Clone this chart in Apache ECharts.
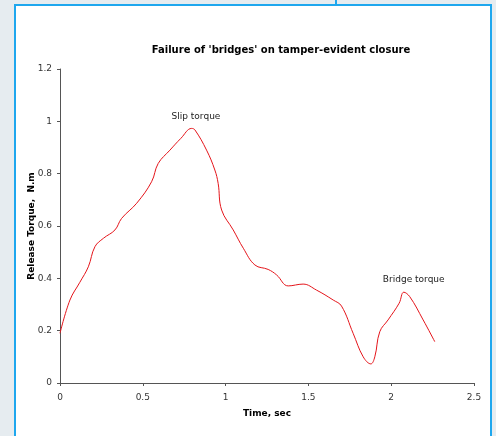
<!DOCTYPE html>
<html><head><meta charset="utf-8">
<script src="https://cdn.jsdelivr.net/npm/echarts@6/dist/echarts.min.js"></script>
<style>
html,body{margin:0;padding:0;width:496px;height:436px;overflow:hidden;background:#e6ecf0;}
#frame{position:absolute;left:14px;top:4px;width:474px;height:440px;background:#fff;border:2px solid #1ea7ee;}
#tick{position:absolute;left:335px;top:0;width:2px;height:5px;background:#1ea7ee;}
#chart{position:absolute;left:0;top:0;width:496px;height:436px;}
</style></head>
<body>
<div id="tick"></div>
<div id="frame"></div>
<div id="chart"></div>
<script>
const timeSec = [0, 0.06, 0.12, 0.171, 0.211, 0.262, 0.332, 0.372, 0.463, 0.553, 0.593, 0.664, 0.73, 0.795, 0.815, 0.885, 0.935, 0.955, 0.976, 1.046, 1.107, 1.177, 1.257, 1.308, 1.378, 1.468, 1.549, 1.65, 1.7, 1.77, 1.831, 1.877, 1.901, 1.931, 1.981, 2.048, 2.076, 2.112, 2.193, 2.263];
const torque  = [0.19, 0.317, 0.385, 0.444, 0.521, 0.553, 0.585, 0.629, 0.687, 0.769, 0.839, 0.89, 0.935, 0.973, 0.967, 0.89, 0.814, 0.763, 0.661, 0.585, 0.515, 0.451, 0.434, 0.413, 0.371, 0.378, 0.355, 0.317, 0.294, 0.19, 0.1, 0.073, 0.1, 0.196, 0.241, 0.305, 0.347, 0.33, 0.241, 0.158];
const annotations = [
  {name: 'Slip torque', x: 0.821, y: 1.016},
  {name: 'Bridge torque', x: 2.136, y: 0.394}
];
const xTicks = [0, 0.5, 1, 1.5, 2, 2.5];
const yTicks = [0, 0.2, 0.4, 0.6, 0.8, 1, 1.2];

const chart = echarts.init(document.getElementById('chart'), null, {renderer: 'canvas'});
const font = 'DejaVu Sans, Verdana, sans-serif';
chart.setOption({
  backgroundColor: 'transparent',
  animation: false,
  title: {
    text: "Failure of 'bridges' on tamper-evident closure",
    left: 276, top: 40, textAlign: 'center',
    textStyle: {fontFamily: font, fontSize: 10, fontWeight: 'bold', color: '#000'}
  },
  grid: {left: 60, right: 22, top: 69, bottom: 53},
  xAxis: {
    type: 'value', min: 0, max: 2.5, interval: 0.5,
    name: 'Time, sec', nameLocation: 'middle', nameGap: 26, nameMoveOverlap: false,
    nameTextStyle: {fontFamily: font, fontSize: 9, fontWeight: 'bold', color: '#000'},
    axisLine: {lineStyle: {color: '#555', width: 1}},
    axisTick: {show: true, length: 3, inside: false, lineStyle: {color: '#555'}},
    axisLabel: {fontFamily: font, fontSize: 9, color: '#333', margin: 10,
      formatter: v => String(v)},
    splitLine: {show: false}
  },
  yAxis: {
    type: 'value', min: 0, max: 1.2, interval: 0.2,
    name: 'Release Torque,  N.m', nameLocation: 'middle', nameGap: 24, nameMoveOverlap: false,
    nameTextStyle: {fontFamily: font, fontSize: 9, fontWeight: 'bold', color: '#000'},
    axisLine: {show: true, lineStyle: {color: '#555', width: 1}},
    axisTick: {show: true, length: 3, lineStyle: {color: '#555'}},
    axisLabel: {fontFamily: font, fontSize: 9, color: '#333', margin: 8,
      formatter: v => String(Math.round(v*10)/10)},
    splitLine: {show: false}
  },
  series: [{
    type: 'line',
    data: timeSec.map((t, i) => [t, torque[i]]),
    smooth: 0.4,
    symbol: 'none',
    lineStyle: {color: '#e4141a', width: 1},
    markPoint: {
      symbol: 'circle', symbolSize: 0,
      label: {show: true, position: 'inside', fontFamily: font, fontSize: 9, color: '#222',
        formatter: p => p.name},
      data: annotations.map(a => ({name: a.name, coord: [a.x, a.y]}))
    }
  }]
});
</script>
</body></html>
